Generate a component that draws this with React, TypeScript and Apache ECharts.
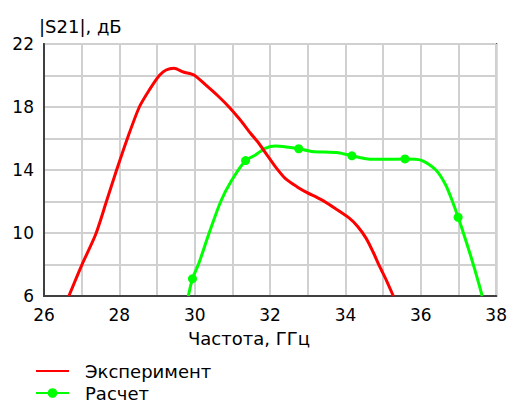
import React, { useEffect, useRef } from "react";
import * as echarts from "echarts";

const expFreq = [26.66, 27.0, 27.37, 27.65, 27.92, 28.22, 28.53, 28.8, 29.06, 29.24, 29.45, 29.7, 29.98, 30.29, 30.64, 30.91, 31.21, 31.48, 31.7, 31.92, 32.14, 32.4, 32.71, 32.93, 33.37, 33.72, 34.11, 34.33, 34.55, 34.73, 34.91, 35.08, 35.27];
const expS21 = [6.0, 7.95, 9.9, 11.95, 13.95, 16.05, 18.0, 19.1, 20.0, 20.35, 20.46, 20.22, 20.03, 19.4, 18.65, 18.0, 17.17, 16.33, 15.7, 14.95, 14.21, 13.47, 12.94, 12.63, 12.1, 11.57, 10.93, 10.4, 9.66, 8.81, 7.86, 7.02, 6.0];

const calcFreq = [29.83, 29.94, 30.11, 30.38, 30.69, 30.97, 31.35, 31.61, 31.87, 32.14, 32.49, 32.76, 33.1, 33.81, 34.17, 34.6, 35.0, 35.58, 36.0, 36.4, 36.66, 36.84, 36.99, 37.19, 37.41, 37.63];
const calcS21 = [6.0, 7.1, 8.08, 9.98, 12.0, 13.3, 14.6, 14.95, 15.38, 15.52, 15.44, 15.35, 15.18, 15.1, 14.9, 14.7, 14.68, 14.7, 14.63, 14.0, 13.05, 12.0, 11.0, 9.56, 7.86, 6.0];
const calcMarker = [false, true, false, false, false, false, true, false, false, false, false, true, false, false, true, false, false, true, false, false, false, false, true, false, false, false];

const xTicks = [26, 28, 30, 32, 34, 36, 38];
const yTicks = [6, 10, 14, 18, 22];

const seriesNames = ["Эксперимент", "Расчет"];
const titleText = "|S21|, дБ";
const xName = "Частота, ГГц";

const FONT = "DejaVu Sans";

export default function App() {
  const ref = useRef<HTMLDivElement>(null);
  useEffect(() => {
    document.body.style.margin = "0";
    if (!ref.current) return;
    const chart = echarts.init(ref.current, undefined, { renderer: "svg" });
    const expData = expFreq.map((f, i) => [f, expS21[i]]);
    const calcData = calcFreq.map((f, i) =>
      calcMarker[i]
        ? { value: [f, calcS21[i]], symbol: "circle", symbolSize: 9 }
        : { value: [f, calcS21[i]], symbol: "none" }
    );
    chart.setOption({
      animation: false,
      backgroundColor: "#ffffff",
      title: {
        text: titleText,
        left: 34,
        top: 12,
        textStyle: { fontFamily: FONT, fontSize: 18, fontWeight: "normal", color: "#000" },
      },
      grid: {
        left: 44,
        right: 11,
        top: 44,
        bottom: 107,
        show: true,
        borderColor: "#404040",
        borderWidth: 2,
        containLabel: false,
      },
      xAxis: {
        type: "value",
        min: 26,
        max: 38,
        interval: 1,
        axisLine: { show: true, lineStyle: { color: "#404040", width: 2 } },
        axisTick: { show: false },
        splitLine: { show: true, lineStyle: { color: "#d0d0d0", width: 2 } },
        axisLabel: {
          margin: 10,
          fontFamily: FONT,
          fontSize: 17,
          color: "#000",
          formatter: (v: number) => (xTicks.includes(v) ? String(v) : ""),
        },
      },
      yAxis: {
        type: "value",
        min: 6,
        max: 22,
        interval: 2,
        axisLine: { show: true, lineStyle: { color: "#404040", width: 2 } },
        axisTick: { show: false },
        splitLine: { show: true, lineStyle: { color: "#d0d0d0", width: 2 } },
        axisLabel: {
          margin: 10,
          fontFamily: FONT,
          fontSize: 17,
          color: "#000",
          formatter: (v: number) => (yTicks.includes(v) ? String(v) : ""),
        },
      },
      legend: {
        orient: "vertical",
        left: 35,
        top: 362,
        height: 80,
        padding: 0,
        itemWidth: 33,
        itemHeight: 12,
        itemGap: 4,
        data: [
          { name: seriesNames[0], itemStyle: { opacity: 0 } },
          { name: seriesNames[1] },
        ],
        textStyle: { fontFamily: FONT, fontSize: 18, color: "#000", padding: [0, 0, 0, 11] },
      },
      graphic: [
        {
          type: "text",
          left: 188,
          top: 329,
          style: { text: xName, font: `18px "${FONT}"`, fill: "#000" },
        },
      ],
      series: [
        {
          name: seriesNames[0],
          type: "line",
          data: expData,
          symbol: "none",
          smooth: 0.25,
          lineStyle: { color: "#ff0000", width: 3 },
          itemStyle: { color: "#ff0000" },
          z: 3,
        },
        {
          name: seriesNames[1],
          type: "line",
          data: calcData,
          symbol: "circle",
          symbolSize: 9,
          showSymbol: true,
          smooth: 0.25,
          lineStyle: { color: "#00ff00", width: 3 },
          itemStyle: { color: "#00ff00" },
          z: 2,
        },
      ],
    });
    return () => chart.dispose();
  }, []);
  return <div ref={ref} style={{ width: 510, height: 403 }} />;
}
